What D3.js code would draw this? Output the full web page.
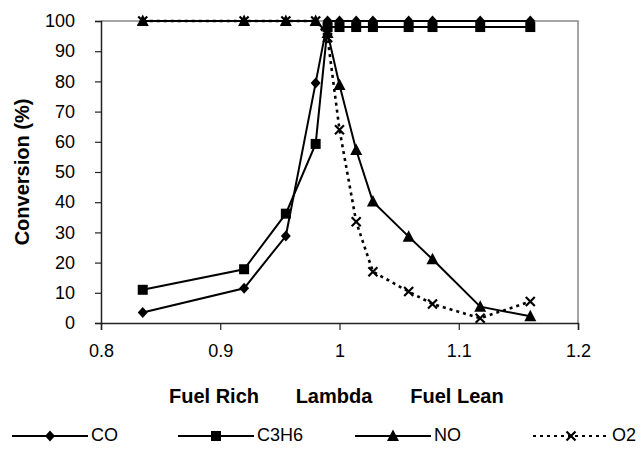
<!DOCTYPE html>
<html>
<head>
<meta charset="utf-8">
<script src="https://cdn.jsdelivr.net/npm/d3@7"></script>
<style>
  html, body { margin: 0; padding: 0; background: #fff; }
  text { font-family: Arial, "Liberation Sans", sans-serif; fill: #000; }
</style>
</head>
<body>
<svg id="chart" width="644" height="455"></svg>
<script>
// Air/fuel ratio (lambda) sweep and conversion of each species (%)
const lambda = [0.835, 0.92, 0.955, 0.98, 0.99, 1.0, 1.014, 1.028, 1.058, 1.078, 1.118, 1.16];
const co     = [3.5, 11.5, 28.8, 79.5, 100, 100, 100, 100, 100, 100, 100, 100];
const c3h6   = [11, 17.8, 36.2, 59.3, 98, 98, 98, 98, 98, 98, 98, 98];
const no     = [100, 100, 100, 100, 96, 78.8, 57.3, 40.2, 28.6, 21.1, 5.4, 2.2];
const o2     = [100, 100, 100, 100, 94.5, 64, 33.5, 17, 10.4, 6.3, 1.6, 7.1];

const seriesNames = ["CO", "C3H6", "NO", "O2"];
const xTicks = [0.8, 0.9, 1.0, 1.1, 1.2];
const yTicks = [0, 10, 20, 30, 40, 50, 60, 70, 80, 90, 100];
const xTitleParts = ["Fuel Rich", "Lambda", "Fuel Lean"];
const yTitle = "Conversion (%)";

const svg = d3.select("#chart");
const plot = { left: 101, right: 578, top: 21, bottom: 323 };

const x = d3.scaleLinear().domain([0.8, 1.2]).range([plot.left, plot.right]);
const y = d3.scaleLinear().domain([0, 100]).range([plot.bottom, plot.top]);

// plot-area frame: grey on top and right
svg.append("path")
  .attr("d", `M${plot.left},${plot.top}H${plot.right}V${plot.bottom}`)
  .attr("fill", "none").attr("stroke", "#888").attr("stroke-width", 1.5);

// axes
const yAxis = d3.axisLeft(y).tickValues(yTicks).tickSize(6).tickPadding(20).tickFormat(d3.format("d"));
const xAxis = d3.axisBottom(x).tickValues(xTicks).tickSize(7).tickPadding(14).tickFormat(d => d3.format("")(+d.toFixed(1)));

const gy = svg.append("g").attr("transform", `translate(${plot.left},0)`).call(yAxis);
const gx = svg.append("g").attr("transform", `translate(0,${plot.bottom})`).call(xAxis);
[gx, gy].forEach(g => {
  g.select(".domain").attr("stroke", "#222").attr("stroke-width", 1.5);
  g.selectAll(".tick line").attr("stroke", "#222").attr("stroke-width", 1.2);
  g.selectAll(".tick text").attr("font-size", 18).attr("font-family", "Arial, 'Liberation Sans', sans-serif").attr("fill", "#000");
});

// axis titles
svg.append("text")
  .attr("transform", `translate(24,${(plot.top + plot.bottom) / 2}) rotate(-90)`)
  .attr("text-anchor", "middle").attr("dominant-baseline", "middle")
  .attr("font-size", 20).attr("font-weight", "bold")
  .text(yTitle);

const titleCenters = [214, 334, 457];
svg.selectAll("text.xtitle").data(xTitleParts).join("text")
  .attr("class", "xtitle")
  .attr("x", (d, i) => titleCenters[i]).attr("y", 403)
  .attr("text-anchor", "middle")
  .attr("font-size", 20).attr("font-weight", "bold")
  .text(d => d);

// marker shapes
function drawMarker(g, kind, cx, cy) {
  if (kind === "diamond") {
    g.append("path").attr("d", `M${cx},${cy - 5.5}L${cx + 5},${cy}L${cx},${cy + 5.5}L${cx - 5},${cy}Z`).attr("fill", "#000");
  } else if (kind === "square") {
    g.append("rect").attr("x", cx - 5).attr("y", cy - 5).attr("width", 10).attr("height", 10).attr("fill", "#000");
  } else if (kind === "triangle") {
    g.append("path").attr("d", `M${cx},${cy - 6.5}L${cx + 6},${cy + 5}L${cx - 6},${cy + 5}Z`).attr("fill", "#000");
  } else if (kind === "cross") {
    g.append("path").attr("d", `M${cx - 4.5},${cy - 4.5}L${cx + 4.5},${cy + 4.5}M${cx + 4.5},${cy - 4.5}L${cx - 4.5},${cy + 4.5}`)
      .attr("stroke", "#000").attr("stroke-width", 2.2).attr("fill", "none");
  }
}

const series = [
  { name: seriesNames[0], values: co,   marker: "diamond",  dash: null },
  { name: seriesNames[1], values: c3h6, marker: "square",   dash: null },
  { name: seriesNames[2], values: no,   marker: "triangle", dash: null },
  { name: seriesNames[3], values: o2,   marker: "cross",    dash: "3,4" }
];

const line = d3.line().x(d => x(d[0])).y(d => y(d[1]));

series.forEach(s => {
  const pts = lambda.map((l, i) => [l, s.values[i]]);
  const g = svg.append("g");
  g.append("path").datum(pts).attr("d", line)
    .attr("fill", "none").attr("stroke", "#000")
    .attr("stroke-width", s.dash ? 2.6 : 2)
    .attr("stroke-dasharray", s.dash);
  pts.forEach(p => drawMarker(g, s.marker, x(p[0]), y(p[1])));
});

// legend
const legendY = 436;
const legendStarts = [12, 178, 355, 533];
series.forEach((s, i) => {
  const x0 = legendStarts[i], x1 = x0 + 76;
  const g = svg.append("g");
  g.append("line").attr("x1", x0).attr("x2", x1).attr("y1", legendY).attr("y2", legendY)
    .attr("stroke", "#000").attr("stroke-width", s.dash ? 2 : 2)
    .attr("stroke-dasharray", s.dash);
  drawMarker(g, s.marker, (x0 + x1) / 2, legendY);
  g.append("text").attr("x", x1 + 3).attr("y", legendY).attr("dominant-baseline", "middle")
    .attr("font-size", 18).text(s.name);
});
</script>
</body>
</html>
